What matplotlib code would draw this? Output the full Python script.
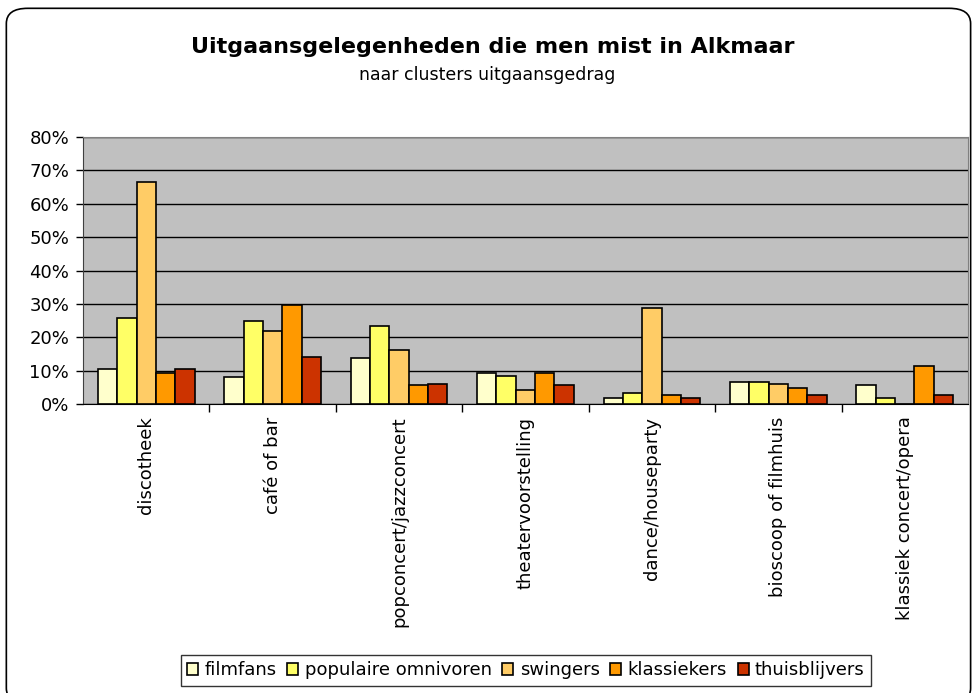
import numpy as np
import matplotlib.pyplot as plt
from matplotlib.patches import FancyBboxPatch

categories = ["discotheek", "café of bar", "popconcert/jazzconcert", "theatervoorstelling",
              "dance/houseparty", "bioscoop of filmhuis", "klassiek concert/opera"]
series = ["filmfans", "populaire omnivoren", "swingers", "klassiekers", "thuisblijvers"]
filmfans = [10.4, 8.0, 13.7, 9.4, 1.8, 6.6, 5.6]
populaire_omnivoren = [25.8, 24.8, 23.4, 8.5, 3.2, 6.6, 1.8]
swingers = [66.6, 22.0, 16.2, 4.2, 28.7, 6.1, 0.0]
klassiekers = [9.4, 29.6, 5.6, 9.4, 2.7, 4.7, 11.4]
thuisblijvers = [10.4, 14.2, 6.1, 5.6, 1.8, 2.7, 2.7]
colors = ["#FFFFCC", "#FFFF66", "#FFCC66", "#FF9900", "#CC3300"]


def main():
    data = [filmfans, populaire_omnivoren, swingers, klassiekers, thuisblijvers]
    fig = plt.figure(figsize=(9.75, 6.93), dpi=100)

    # afgeronde rand rond de hele grafiek (onderkant valt buiten beeld)
    border = FancyBboxPatch((0.0065, -0.015), 0.989, 1.003,
                            boxstyle="round,pad=0,rounding_size=0.022",
                            transform=fig.transFigure, fill=False,
                            edgecolor="black", linewidth=1.2)
    fig.patches.append(border)

    ax = fig.add_axes([0.0851, 0.417, 0.9077, 0.3853])
    ax.set_facecolor("#C0C0C0")

    x = np.arange(len(categories))
    w = 0.153
    for i, vals in enumerate(data):
        ax.bar(x + (i - 2) * w, vals, width=w, color=colors[i], edgecolor="black",
               linewidth=1.2, label=series[i], zorder=3)

    ax.set_xlim(-0.5, len(categories) - 0.5)
    ax.set_ylim(0, 80)
    ax.set_yticks(range(0, 81, 10))
    ax.set_yticklabels([f"{v}%" for v in range(0, 81, 10)], fontsize=13)
    ax.yaxis.grid(True, color="black", linewidth=1, zorder=1)
    ax.set_axisbelow(True)

    ax.set_xticks(x)
    ax.set_xticklabels(categories, rotation=90, fontsize=13)
    ax.tick_params(axis="x", length=0, pad=9)
    ax.set_xticks(np.arange(0.5, len(categories) - 0.5, 1), minor=True)
    ax.tick_params(axis="x", which="minor", length=6, width=1, direction="out")
    ax.tick_params(axis="y", length=5, width=1, direction="out", pad=5)

    for s in ["top", "right"]:
        ax.spines[s].set_color("#808080")
    ax.spines["left"].set_color("#404040")
    ax.spines["bottom"].set_color("black")

    fig.text(0.505, 0.932, "Uitgaansgelegenheden die men mist in Alkmaar",
             ha="center", va="center", fontsize=16, fontweight="bold")
    fig.text(0.5, 0.892, "naar clusters uitgaansgedrag", ha="center", va="center", fontsize=12.5)

    leg = fig.legend(loc="center", bbox_to_anchor=(0.5395, 0.0325), ncol=5, fontsize=13,
                     frameon=True, fancybox=False, edgecolor="black", handlelength=0.6,
                     handleheight=0.6, handletextpad=0.35, columnspacing=0.6,
                     borderpad=0.35)
    leg.get_frame().set_linewidth(1)

    plt.savefig("out.png", dpi=100)


if __name__ == "__main__":
    main()
